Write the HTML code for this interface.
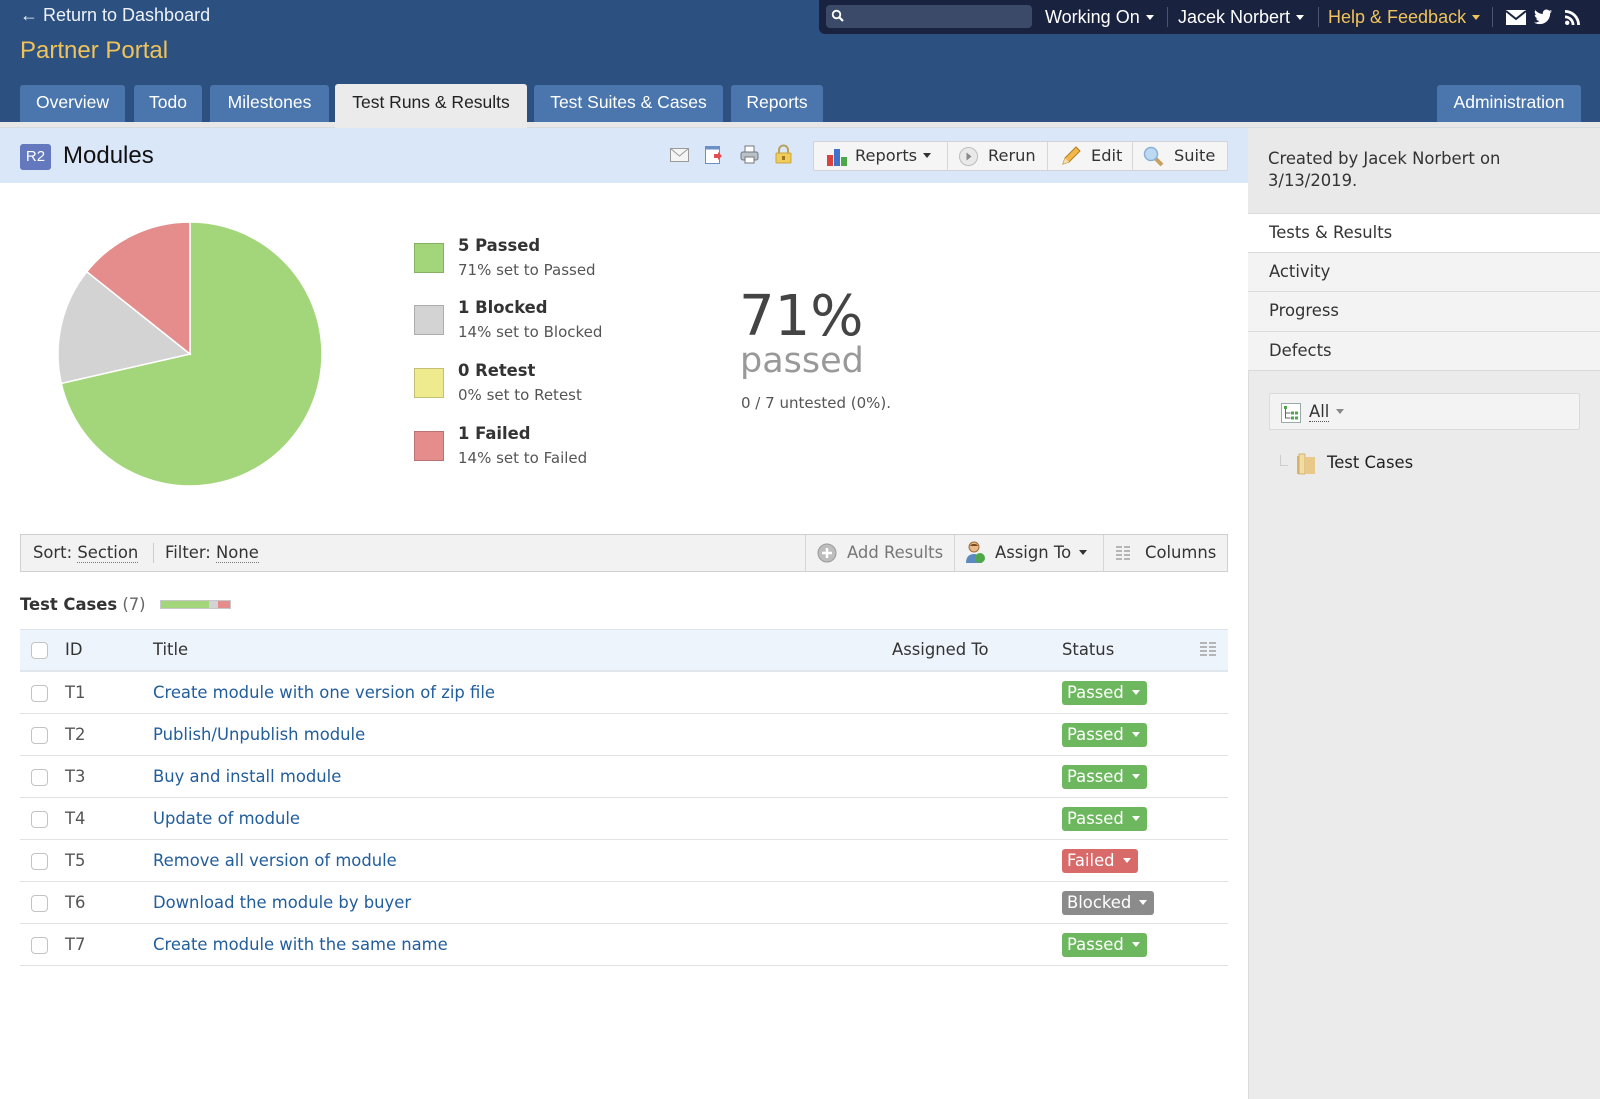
<!DOCTYPE html>
<html><head><meta charset="utf-8"><style>
*{margin:0;padding:0;box-sizing:border-box}
html,body{width:1600px;height:1099px;overflow:hidden;background:#fff}
body{position:relative;font-family:"DejaVu Sans","Liberation Sans",sans-serif;color:#333}
.a{position:absolute;white-space:nowrap}
.hv{font-family:"Liberation Sans",sans-serif}
.tab{position:absolute;top:85px;height:37px;background:#4a76ad;color:#fff;font:17.5px "Liberation Sans",sans-serif;line-height:35px;text-align:center;border-radius:3px 3px 0 0}
.caret{display:inline-block;width:0;height:0;border-left:4.5px solid transparent;border-right:4.5px solid transparent;border-top:5px solid currentColor;vertical-align:middle;margin-left:6px;position:relative;top:-1px}
.sep{position:absolute;top:7px;width:1px;height:20px;background:#4a5570}
.btn{position:absolute;top:0;height:28px;line-height:28px;font-size:16.2px;color:#333}
.bdiv{position:absolute;top:0;width:1px;height:28px;background:#d6d6d6}
.leg{position:absolute;left:414px;width:30px;height:30px;border:1px solid rgba(0,0,0,0.18)}
.lt{position:absolute;left:458px;font-weight:bold;font-size:16.4px;color:#333;line-height:20px}
.ls{position:absolute;left:458px;font-size:15px;color:#555;line-height:20px}
.row{position:absolute;left:20px;width:1208px;height:42px;border-bottom:1px solid #e3e3e3}
.cb{position:absolute;left:11px;top:13px;width:17px;height:17px;border:1px solid #c3c3c3;border-radius:4px;background:#fff}
.id{position:absolute;left:45px;top:0;line-height:42px;font-size:16.4px;color:#555}
.ttl{position:absolute;left:133px;top:0;line-height:42px;font-size:16.4px;color:#225d9c}
.badge{position:absolute;left:1042px;top:9px;height:24px;line-height:24px;border-radius:3px;color:#fff;font-size:16.4px;padding-left:5px}
.badge .caret{border-top-color:#fff;margin-left:8px}
.side{position:absolute;left:1248px;width:352px;height:40px;line-height:38px;padding-left:21px;font-size:16.4px;color:#333;background:#f3f3f3;border-bottom:1px solid #dadada}
</style></head><body>

<!-- header -->
<div class="a" style="left:0;top:0;width:1600px;height:122px;background:#2c5080"></div>
<div class="a hv" style="left:20px;top:4px;font-size:18px;color:#eef2f8;line-height:22px">&#8592; Return to Dashboard</div>
<div class="a hv" style="left:20px;top:37px;font-size:24px;color:#f0c35a;line-height:28px">Partner Portal</div>

<!-- top dark bar -->
<div class="a" style="left:819px;top:0;width:781px;height:34px;background:#19223f;border-bottom-left-radius:6px"></div>
<div class="a" style="left:826px;top:5px;width:206px;height:23px;background:#3b4a68;border-radius:4px"></div>
<svg class="a" style="left:831px;top:9px" width="14" height="14" viewBox="0 0 14 14"><circle cx="5.5" cy="5.5" r="3.8" fill="none" stroke="#fff" stroke-width="1.8"/><line x1="8.3" y1="8.3" x2="12" y2="12" stroke="#fff" stroke-width="2.2"/></svg>
<div class="a hv" style="left:1045px;top:6px;font-size:18px;color:#fff;line-height:22px">Working On<span class="caret"></span></div>
<div class="sep" style="left:1167px"></div>
<div class="a hv" style="left:1178px;top:6px;font-size:18px;color:#fff;line-height:22px">Jacek Norbert<span class="caret"></span></div>
<div class="sep" style="left:1318px"></div>
<div class="a hv" style="left:1328px;top:6px;font-size:18px;color:#f0c35a;line-height:22px">Help &amp; Feedback<span class="caret"></span></div>
<div class="sep" style="left:1492px"></div>
<svg class="a" style="left:1506px;top:10px" width="20" height="15" viewBox="0 0 20 15"><rect x="0" y="0" width="20" height="15" fill="#fff"/><polyline points="0,1 10,9 20,1" fill="none" stroke="#19223f" stroke-width="2"/></svg>
<svg class="a" style="left:1534px;top:9px" width="18" height="16" viewBox="0 0 24 20"><path d="M24 2.4c-.9.4-1.8.7-2.8.8 1-.6 1.8-1.6 2.2-2.7-1 .6-2 1-3.1 1.2C19.3.7 18 0 16.6 0c-2.7 0-4.9 2.2-4.9 4.9 0 .4 0 .8.1 1.1C7.7 5.8 4.1 3.9 1.7.9c-.4.7-.7 1.6-.7 2.5 0 1.7.9 3.2 2.2 4.1-.8 0-1.600-.2-2.2-.6v.1c0 2.4 1.7 4.4 3.9 4.8-.4.1-.8.2-1.3.2-.3 0-.6 0-.9-.1.6 2 2.4 3.4 4.6 3.4-1.7 1.3-3.8 2.1-6.1 2.1-.4 0-.8 0-1.2-.1 2.2 1.4 4.8 2.2 7.5 2.2 9.1 0 14-7.5 14-14v-.6c1-.7 1.8-1.600 2.500-2.500z" fill="#fff"/></svg>
<svg class="a" style="left:1565px;top:10px" width="15" height="15" viewBox="0 0 15 15"><circle cx="2.2" cy="12.8" r="2.2" fill="#fff"/><path d="M0 5.5a9.5 9.5 0 0 1 9.5 9.5h-2.8A6.7 6.7 0 0 0 0 8.3z" fill="#fff"/><path d="M0 0a15 15 0 0 1 15 15h-2.8A12.2 12.2 0 0 0 0 2.8z" fill="#fff"/></svg>

<!-- tabs -->
<div class="tab" style="left:20px;width:105px">Overview</div>
<div class="tab" style="left:134px;width:68px">Todo</div>
<div class="tab" style="left:210px;width:119px">Milestones</div>
<div class="tab" style="left:534px;width:189px">Test Suites &amp; Cases</div>
<div class="tab" style="left:731px;width:92px">Reports</div>
<div class="tab" style="left:1437px;width:144px">Administration</div>

<!-- stripe -->
<div class="a" style="left:0;top:122px;width:1600px;height:6px;background:#e7e7e7;border-bottom:1px solid #d6dbe2"></div>
<div class="tab" style="left:335px;top:84px;width:192px;height:44px;background:#ebebeb;color:#222;line-height:36px">Test Runs &amp; Results</div>

<!-- title bar -->
<div class="a" style="left:0;top:128px;width:1248px;height:55px;background:#dae7f9"></div>
<div class="a" style="left:20px;top:144px;width:31px;height:26px;background:#6479bd;border-radius:3px;color:#fff;font:15px 'Liberation Sans',sans-serif;line-height:26px;text-align:center">R2</div>
<div class="a hv" style="left:63px;top:141px;font-size:24px;line-height:30px;color:#111">Modules</div>

<!-- small icons -->
<svg class="a" style="left:670px;top:148px" width="19" height="14" viewBox="0 0 19 14"><rect x=".5" y=".5" width="18" height="13" fill="#f4f4f4" stroke="#9a9a9a"/><polyline points=".5,.5 9.5,8 18.5,.5" fill="none" stroke="#9a9a9a"/></svg>
<svg class="a" style="left:705px;top:146px" width="17" height="18" viewBox="0 0 17 18"><rect x=".5" y=".5" width="14" height="17" fill="#fff" stroke="#6b8fc4"/><rect x=".5" y=".5" width="14" height="3" fill="#6b8fc4"/><path d="M9 8h4v-2l4 4-4 4v-2H9z" fill="#e05050"/></svg>
<svg class="a" style="left:740px;top:145px" width="19" height="19" viewBox="0 0 19 19"><rect x="5" y="1" width="9" height="6" fill="#fff" stroke="#777"/><rect x="1" y="7" width="17" height="8" rx="2" fill="#b9c0c8" stroke="#6e7780"/><rect x="5" y="12" width="9" height="6" fill="#fff" stroke="#777"/></svg>
<svg class="a" style="left:775px;top:144px" width="17" height="20" viewBox="0 0 17 20"><path d="M4 9V6a4.5 4.5 0 0 1 9 0v3" fill="none" stroke="#b7a35a" stroke-width="2"/><rect x="1" y="9" width="15" height="10" rx="1" fill="#f1cc5a" stroke="#c9a53a"/><rect x="7" y="12" width="3" height="4" fill="#9a7a20"/></svg>

<!-- button group -->
<div class="a" style="left:813px;top:141px;width:415px;height:30px;background:#f5f5f5;border:1px solid #cfd3d8;border-radius:2px">
  <div class="bdiv" style="left:133px"></div>
  <div class="bdiv" style="left:233px"></div>
  <div class="bdiv" style="left:318px"></div>
  <svg class="a" style="left:12px;top:5px" width="22" height="19" viewBox="0 0 22 19"><rect x="1" y="8" width="6" height="11" fill="#d8433e"/><rect x="8" y="2" width="6" height="17" fill="#3f72c9"/><rect x="15" y="10" width="6" height="9" fill="#4ea84a"/></svg>
  <div class="btn" style="left:41px">Reports<span class="caret" style="color:#333"></span></div>
  <svg class="a" style="left:144px;top:4px" width="21" height="21" viewBox="0 0 21 21"><circle cx="10.5" cy="10.5" r="9" fill="#e9e9e9" stroke="#bdbdbd"/><path d="M8.5 6.5v8l5-4z" fill="#888"/></svg>
  <div class="btn" style="left:174px">Rerun</div>
  <svg class="a" style="left:246px;top:3px" width="22" height="22" viewBox="0 0 22 22"><path d="M3 19l2-6L16 2l4 4L9 17z" fill="#f2b84a" stroke="#b07a20"/><path d="M3 19l2-6 4 4z" fill="#f5deb0"/></svg>
  <div class="btn" style="left:277px">Edit</div>
  <svg class="a" style="left:329px;top:4px" width="21" height="21" viewBox="0 0 21 21"><line x1="12" y1="12" x2="19" y2="19" stroke="#c8a060" stroke-width="4"/><circle cx="8" cy="8" r="6.5" fill="#bcd9f3" stroke="#8ab0d6" stroke-width="1.5"/></svg>
  <div class="btn" style="left:360px">Suite</div>
</div>

<!-- pie -->
<svg class="a" style="left:0;top:0" width="340" height="500">
  <path d="M190,354 L190,222 A132,132 0 1,1 61.31,383.37 Z" fill="#a3d67a" stroke="#fff" stroke-width="1.5"/>
  <path d="M190,354 L61.31,383.37 A132,132 0 0,1 86.8,271.7 Z" fill="#d3d3d3" stroke="#fff" stroke-width="1.5"/>
  <path d="M190,354 L86.8,271.7 A132,132 0 0,1 190,222 Z" fill="#e58c8c" stroke="#fff" stroke-width="1.5"/>
</svg>

<!-- legend -->
<div class="leg" style="top:243px;background:#a3d67a"></div>
<div class="lt" style="top:236px">5 Passed</div>
<div class="ls" style="top:260px">71% set to Passed</div>
<div class="leg" style="top:305px;background:#d3d3d3"></div>
<div class="lt" style="top:298px">1 Blocked</div>
<div class="ls" style="top:322px">14% set to Blocked</div>
<div class="leg" style="top:368px;background:#eeea8e"></div>
<div class="lt" style="top:361px">0 Retest</div>
<div class="ls" style="top:385px">0% set to Retest</div>
<div class="leg" style="top:431px;background:#e58c8c"></div>
<div class="lt" style="top:424px">1 Failed</div>
<div class="ls" style="top:448px">14% set to Failed</div>

<div class="a" style="left:739px;top:284px;font-size:56px;line-height:66px;color:#444">71%</div>
<div class="a" style="left:740px;top:340px;font-size:35px;line-height:42px;color:#999">passed</div>
<div class="a" style="left:741px;top:393px;font-size:15px;line-height:20px;color:#555">0 / 7 untested (0%).</div>

<!-- toolbar -->
<div class="a" style="left:20px;top:534px;width:1208px;height:38px;background:#f2f2f2;border:1px solid #d0d0d0">
  <div class="a" style="left:12px;top:0;line-height:36px;font-size:16.4px;color:#333">Sort: <span style="border-bottom:1px dotted #777">Section</span></div>
  <div class="a" style="left:132px;top:8px;width:1px;height:20px;background:#ccc"></div>
  <div class="a" style="left:144px;top:0;line-height:36px;font-size:16.4px;color:#333">Filter: <span style="border-bottom:1px dotted #777">None</span></div>
  <div class="a" style="left:784px;top:0;width:1px;height:36px;background:#d6d6d6"></div>
  <div class="a" style="left:933px;top:0;width:1px;height:36px;background:#d6d6d6"></div>
  <div class="a" style="left:1082px;top:0;width:1px;height:36px;background:#d6d6d6"></div>
  <svg class="a" style="left:796px;top:8px" width="20" height="20" viewBox="0 0 20 20"><circle cx="10" cy="10" r="9" fill="#bdbdbd" stroke="#9a9a9a"/><path d="M10 5v10M5 10h10" stroke="#fff" stroke-width="2.5"/></svg>
  <div class="a" style="left:826px;top:0;line-height:36px;font-size:16.4px;color:#777">Add Results</div>
  <svg class="a" style="left:944px;top:6px" width="22" height="24" viewBox="0 0 22 24"><circle cx="9" cy="6" r="5" fill="#e8b98a" stroke="#a06a3a"/><path d="M9 3a4 4 0 0 1 4 2H5a4 4 0 0 1 4-2z" fill="#7a4a20"/><path d="M1 22c0-6 3-9 8-9s8 3 8 9z" fill="#5a8ac0"/><circle cx="15" cy="17" r="5" fill="#4ea84a"/></svg>
  <div class="a" style="left:974px;top:0;line-height:36px;font-size:16.4px;color:#333">Assign To<span class="caret" style="margin-left:8px"></span></div>
  <svg class="a" style="left:1094px;top:10px" width="17" height="17" viewBox="0 0 17 17"><g fill="#b5b5b5"><rect x="1" y="1" width="6" height="2"/><rect x="1" y="5" width="6" height="2"/><rect x="1" y="9" width="6" height="2"/><rect x="1" y="13" width="6" height="2"/><rect x="9" y="1" width="6" height="2"/><rect x="9" y="5" width="6" height="2"/><rect x="9" y="9" width="6" height="2"/><rect x="9" y="13" width="6" height="2"/></g></svg>
  <div class="a" style="left:1124px;top:0;line-height:36px;font-size:16.4px;color:#333">Columns</div>
</div>

<!-- test cases heading -->
<div class="a" style="left:20px;top:594px;line-height:22px;font-size:16.4px"><b>Test Cases</b> <span style="color:#666">(7)</span></div>
<div class="a" style="left:160px;top:600px;width:71px;height:9px;border:1px solid #c8c8c8;background:#e58c8c">
  <div class="a" style="left:0;top:0;width:48px;height:7px;background:#a3d67a"></div>
  <div class="a" style="left:48px;top:0;width:9px;height:7px;background:#d3d3d3"></div>
</div>

<!-- table header -->
<div class="a" style="left:20px;top:629px;width:1208px;height:43px;background:#eef4fc;border-top:1px solid #dde4ec;border-bottom:2px solid #e1e6ec">
  <div class="cb" style="top:12px"></div>
  <div class="a" style="left:45px;top:0;line-height:40px;font-size:16.4px;color:#333">ID</div>
  <div class="a" style="left:133px;top:0;line-height:40px;font-size:16.4px;color:#333">Title</div>
  <div class="a" style="left:872px;top:0;line-height:40px;font-size:16.4px;color:#333">Assigned To</div>
  <div class="a" style="left:1042px;top:0;line-height:40px;font-size:16.4px;color:#333">Status</div>
  <svg class="a" style="left:1180px;top:12px" width="16" height="16" viewBox="0 0 16 16"><g fill="#b5b5b5"><rect x="0" y="0" width="7" height="2"/><rect x="0" y="4" width="7" height="2"/><rect x="0" y="8" width="7" height="2"/><rect x="0" y="12" width="7" height="2"/><rect x="9" y="0" width="7" height="2"/><rect x="9" y="4" width="7" height="2"/><rect x="9" y="8" width="7" height="2"/><rect x="9" y="12" width="7" height="2"/></g></svg>
</div>

<!-- rows -->
<div class="row" style="top:672px"><div class="cb"></div><div class="id">T1</div><div class="ttl">Create module with one version of zip file</div><div class="badge" style="width:85px;background:#6db75f">Passed<span class="caret"></span></div></div>
<div class="row" style="top:714px"><div class="cb"></div><div class="id">T2</div><div class="ttl">Publish/Unpublish module</div><div class="badge" style="width:85px;background:#6db75f">Passed<span class="caret"></span></div></div>
<div class="row" style="top:756px"><div class="cb"></div><div class="id">T3</div><div class="ttl">Buy and install module</div><div class="badge" style="width:85px;background:#6db75f">Passed<span class="caret"></span></div></div>
<div class="row" style="top:798px"><div class="cb"></div><div class="id">T4</div><div class="ttl">Update of module</div><div class="badge" style="width:85px;background:#6db75f">Passed<span class="caret"></span></div></div>
<div class="row" style="top:840px"><div class="cb"></div><div class="id">T5</div><div class="ttl">Remove all version of module</div><div class="badge" style="width:76px;background:#d86a6a">Failed<span class="caret"></span></div></div>
<div class="row" style="top:882px"><div class="cb"></div><div class="id">T6</div><div class="ttl">Download the module by buyer</div><div class="badge" style="width:92px;background:#8b8b8b">Blocked<span class="caret"></span></div></div>
<div class="row" style="top:924px"><div class="cb"></div><div class="id">T7</div><div class="ttl">Create module with the same name</div><div class="badge" style="width:85px;background:#6db75f">Passed<span class="caret"></span></div></div>

<!-- sidebar -->
<div class="a" style="left:1248px;top:128px;width:352px;height:971px;background:#ebebeb;border-left:1px solid #dcdcdc"></div>
<div class="a" style="left:1248px;top:128px;width:352px;height:86px;background:#e9e9e9;border-bottom:1px solid #dadada"></div>
<div class="a" style="left:1268px;top:148px;font-size:16.4px;line-height:22px;color:#333;white-space:normal;width:320px">Created by Jacek Norbert on<br>3/13/2019.</div>
<div class="side" style="top:214px;height:39px;background:#fff">Tests &amp; Results</div>
<div class="side" style="top:253px;height:39px">Activity</div>
<div class="side" style="top:292px;height:40px">Progress</div>
<div class="side" style="top:332px;height:39px">Defects</div>
<div class="a" style="left:1269px;top:393px;width:311px;height:37px;background:#f3f3f3;border:1px solid #dadada;border-radius:2px"></div>
<svg class="a" style="left:1281px;top:403px" width="20" height="20" viewBox="0 0 20 20"><rect x=".5" y=".5" width="19" height="19" fill="#fff" stroke="#9aa"/><rect x="3" y="3" width="3" height="3" fill="#4ea84a"/><path d="M4.5 6v9h5M4.5 10h5" stroke="#666" fill="none"/><rect x="10" y="8.5" width="3" height="3" fill="#4ea84a"/><rect x="10" y="13.5" width="3" height="3" fill="#4ea84a"/><rect x="14" y="8.5" width="3" height="3" fill="#4ea84a"/><rect x="14" y="13.5" width="3" height="3" fill="#4ea84a"/></svg>
<div class="a" style="left:1309px;top:401px;font-size:16.4px;line-height:22px;color:#333"><span style="border-bottom:1px dotted #555">All</span><span class="caret" style="color:#888;margin-left:7px"></span></div>
<div class="a" style="left:1280px;top:455px;width:8px;height:11px;border-left:1px solid #ccc;border-bottom:1px solid #ccc"></div>
<svg class="a" style="left:1296px;top:452px" width="21" height="23" viewBox="0 0 21 23"><path d="M1 4h6l2 2h10v16H1z" fill="#d9b46a"/><path d="M3 2h6v20H3z" fill="#f1dca4" stroke="#c9a560" stroke-width=".8"/><path d="M9 5h10v17H9z" fill="#e9c98a"/></svg>
<div class="a" style="left:1327px;top:452px;font-size:16.4px;line-height:22px;color:#222">Test Cases</div>

</body></html>
